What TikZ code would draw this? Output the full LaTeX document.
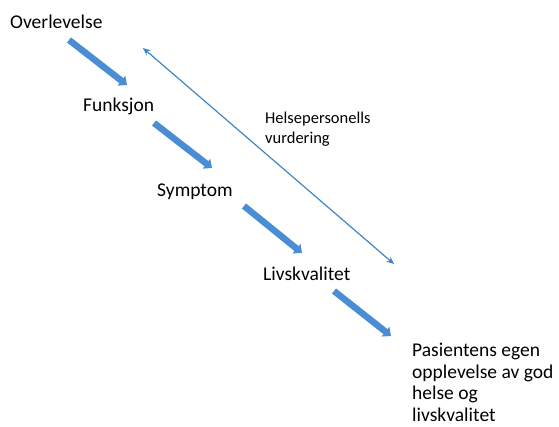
\documentclass[tikz,border=0pt]{standalone}
\usepackage{fontspec}
\setmainfont{Carlito}
\usetikzlibrary{arrows.meta}
\definecolor{arrowblue}{RGB}{74,141,212}
\definecolor{lineblue}{RGB}{62,134,197}
\begin{document}
\begin{tikzpicture}[x=1bp,y=-1bp,
  lbl/.style={anchor=base west,inner sep=0pt,font=\fontsize{19.5bp}{21.5bp}\selectfont,align=left},
  small/.style={anchor=base west,inner sep=0pt,font=\fontsize{16.5bp}{19.5bp}\selectfont,align=left},
  bigarrow/.style={draw=arrowblue,line width=6.5bp,-{Triangle[width=12bp,length=7bp]}},
  thinarrow/.style={draw=lineblue,line width=1.2bp,{Stealth[width=6.5bp,length=7.5bp]}-{Stealth[width=6.5bp,length=7.5bp]}}]
\useasboundingbox (0,0) rectangle (559,426);
\node[lbl] (over) at (10,28) {Overlevelse};
\node[lbl] (funk) at (83,111) {Funksjon};
\node[lbl] (symp) at (157,196) {Symptom};
\node[lbl] (livs) at (263,280) {Livskvalitet};
\node[lbl] (pas) at (412,421) {Pasientens egen\\opplevelse av god\\helse og\\livskvalitet};
\node[small] (hel) at (265,143) {Helsepersonells\\vurdering};
\coordinate (a1s) at (69,40);
\coordinate (a1e) at (127,85);
\coordinate (a2s) at (154,123);
\coordinate (a2e) at (212,168);
\coordinate (a3s) at (244,206);
\coordinate (a3e) at (302,253);
\coordinate (a4s) at (334,291);
\coordinate (a4e) at (391,336);
\coordinate (ts) at (143,48);
\coordinate (te) at (394,264);
\draw[bigarrow] (a1s) -- (a1e);
\draw[bigarrow] (a2s) -- (a2e);
\draw[bigarrow] (a3s) -- (a3e);
\draw[bigarrow] (a4s) -- (a4e);
\draw[thinarrow] (ts) -- (te);
\end{tikzpicture}
\end{document}
